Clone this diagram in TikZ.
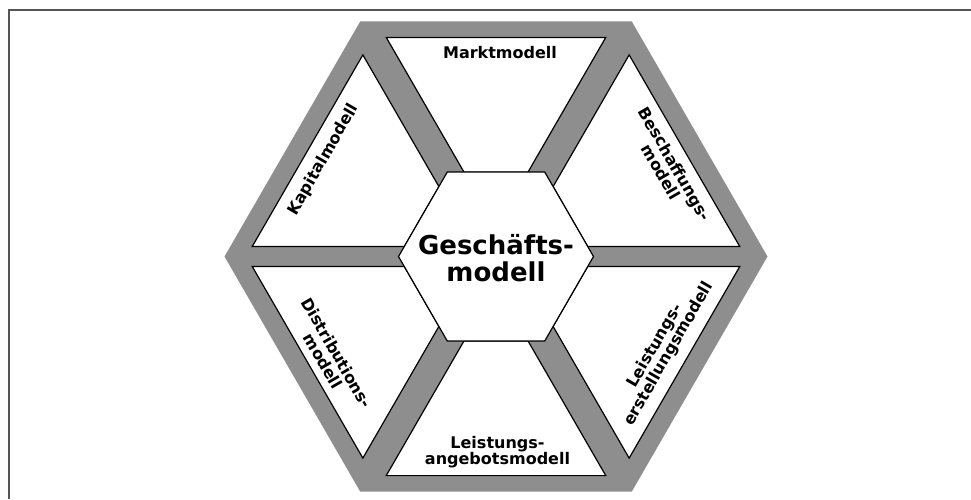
\documentclass[tikz,border=0pt]{standalone}
\usepackage{fontspec}
\setmainfont{DejaVu Sans}
\definecolor{bandgray}{HTML}{8E8E8E}
\definecolor{framecol}{HTML}{555555}
\begin{document}
\begin{tikzpicture}[x=1pt,y=1pt,
  field/.style={fill=white,draw=black,line width=1.2pt,line join=miter},
  lab/.style={font=\bfseries\fontsize{16}{16}\selectfont,align=center,inner sep=0pt,text=black},
  biglab/.style={font=\bfseries\fontsize{26}{27}\selectfont,align=center,inner sep=0pt,text=black}]
\useasboundingbox (0,0) rectangle (971,-499);
\draw[framecol,line width=1.8pt] (9,-499) -- (9,-10) -- (971,-10);
\begin{scope}[shift={(496,-256.5)}]
  % grey outer hexagon
  \fill[bandgray] (0:271.5) -- (60:271.5) -- (120:271.5) -- (180:271.5) -- (240:271.5) -- (300:271.5) -- cycle;
  % six white fields
  \draw[field] (-109.76,219.1) -- (109.76,219.1) -- (31.99,84.4) -- (-31.99,84.4) -- cycle;
  \draw[field] (-109.76,-219.1) -- (109.76,-219.1) -- (31.99,-84.4) -- (-31.99,-84.4) -- cycle;
  \draw[field] (133.14,201.6) -- (243.76,10) -- (91.69,10) -- (57.1,69.9) -- cycle;
  \draw[field] (-133.14,201.6) -- (-243.76,10) -- (-91.69,10) -- (-57.1,69.9) -- cycle;
  \draw[field] (-133.14,-201.6) -- (-243.76,-10) -- (-91.69,-10) -- (-57.1,-69.9) -- cycle;
  \draw[field] (133.14,-201.6) -- (243.76,-10) -- (91.69,-10) -- (57.1,-69.9) -- cycle;
  % central hexagon
  \draw[field] (0:97.5) -- (60:97.5) -- (120:97.5) -- (180:97.5) -- (240:97.5) -- (300:97.5) -- cycle;
  \node[biglab] (gm) at (0,-2) {Geschäfts-\\modell};
  % labels
  \node[lab] (markt) at (4,203.5) {Marktmodell};
  \node[lab,rotate=-60] (besch) at (172,88.5) {Beschaffungs-\\modell};
  \node[lab,rotate=60] (kapital) at (-172.5,96.5) {Kapitalmodell};
  \node[lab,rotate=-60] (distr) at (-166,-100.5) {Distributions-\\modell};
  \node[lab] (angebot) at (1.5,-195.5) {Leistungs-\\angebotsmodell};
  \node[lab,rotate=60] (erstell) at (166,-93.5) {Leistungs-\\erstellungsmodell};
\end{scope}
\end{tikzpicture}
\end{document}
